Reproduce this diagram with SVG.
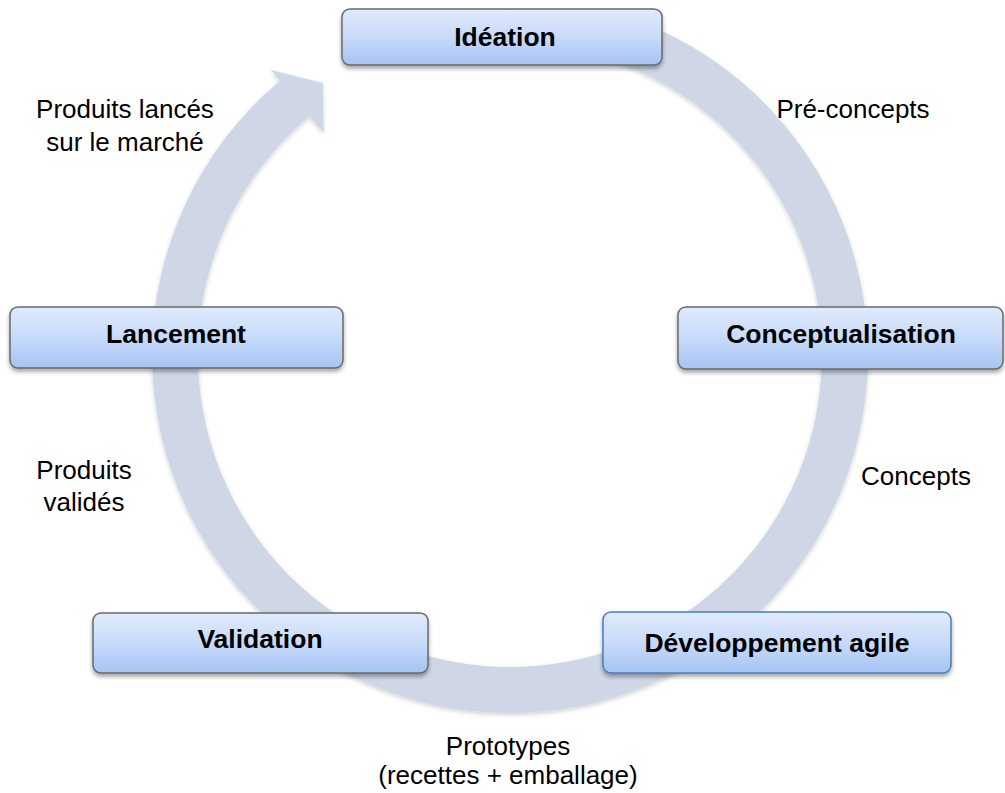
<svg xmlns="http://www.w3.org/2000/svg" width="1005" height="793" viewBox="0 0 1005 793">
<style>
.box{fill:url(#boxGrad);stroke:#6a6a6a;stroke-width:1.5;filter:url(#boxShadow)}
.box.blue{stroke:#4a7ebb}
.node{font-family:"Liberation Sans",Arial,sans-serif;font-weight:bold;font-size:26.5px;fill:#000;text-anchor:middle}
.lbl{font-family:"Liberation Sans",Arial,sans-serif;font-size:26px;fill:#000;text-anchor:middle}
.ring{fill:#cfd7e6;filter:url(#ringShadow)}
</style>
<defs>
<linearGradient id="boxGrad" x1="0" y1="0" x2="0" y2="1">
<stop offset="0" stop-color="#e0eafc"/>
<stop offset="0.5" stop-color="#c8dbfa"/>
<stop offset="1" stop-color="#a5c3f4"/>
</linearGradient>
<filter id="boxShadow" x="-10%" y="-30%" width="120%" height="170%">
<feDropShadow dx="0" dy="3" stdDeviation="2" flood-color="#000" flood-opacity="0.35"/>
</filter>
<filter id="ringShadow" x="-10%" y="-10%" width="120%" height="120%">
<feDropShadow dx="0" dy="2" stdDeviation="2" flood-color="#000" flood-opacity="0.18"/>
</filter>
</defs>
<g id="connectors">
<path class="ring" d="M620.6,14.5 A358,358 0 1 1 279.9,80.8 L270.9,70.0 L323.1,83.0 L323.6,132.8 L309.4,116.0 A312,312 0 1 0 606.4,58.3 Z"/>
</g>
<g id="ideation">
<rect class="box" x="342" y="9" width="320" height="56" rx="8"/>
<text class="node" x="505" y="46">Idéation</text>
</g>
<g id="conceptualisation">
<rect class="box" x="678" y="307" width="325" height="62" rx="8"/>
<text class="node" x="841" y="343">Conceptualisation</text>
</g>
<g id="developpement">
<rect class="box blue" x="603" y="612" width="348" height="61" rx="8"/>
<text class="node" x="777" y="652">Développement agile</text>
</g>
<g id="validation">
<rect class="box" x="93" y="613" width="335" height="60" rx="8"/>
<text class="node" x="260" y="648">Validation</text>
</g>
<g id="lancement">
<rect class="box" x="10" y="307" width="333" height="61" rx="8"/>
<text class="node" x="176" y="343">Lancement</text>
</g>
<g id="labels">
<text class="lbl" x="853" y="118">Pré-concepts</text>
<text class="lbl" x="916" y="485">Concepts</text>
<text class="lbl" x="508" y="755">Prototypes</text>
<text class="lbl" x="508" y="784">(recettes + emballage)</text>
<text class="lbl" x="84" y="479">Produits</text>
<text class="lbl" x="84" y="511">validés</text>
<text class="lbl" x="125" y="118">Produits lancés</text>
<text class="lbl" x="125" y="151">sur le marché</text>
</g>
</svg>
